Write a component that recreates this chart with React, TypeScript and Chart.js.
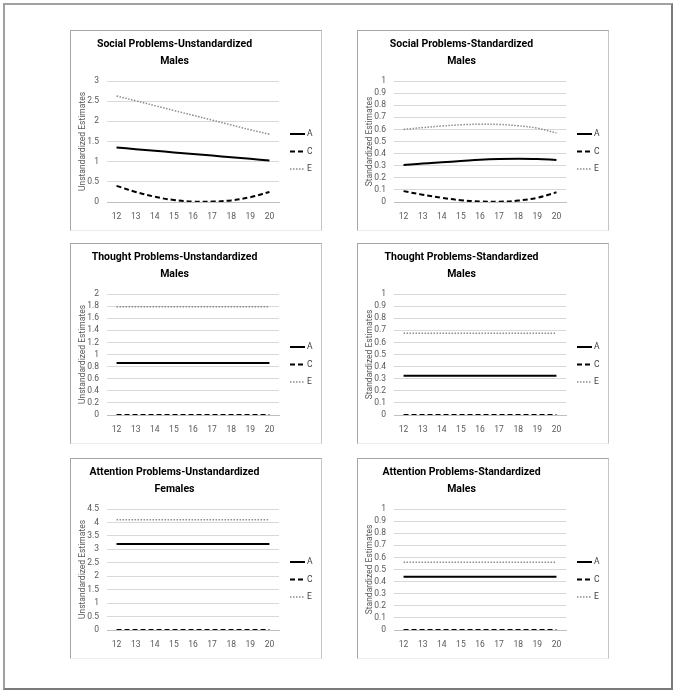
import React, { useEffect, useRef } from "react";
import { Chart, registerables } from "chart.js";

Chart.register(...registerables);

const AGES = ["12", "13", "14", "15", "16", "17", "18", "19", "20"];
const SERIES_NAMES = ["A", "C", "E"];

const SOC_UNSTD_A = [1.35, 1.31, 1.27, 1.23, 1.19, 1.15, 1.11, 1.07, 1.03];
const SOC_UNSTD_C = [0.4, 0.25, 0.13, 0.05, 0.01, 0.01, 0.04, 0.12, 0.25];
const SOC_UNSTD_E = [2.63, 2.51, 2.39, 2.27, 2.15, 2.03, 1.91, 1.79, 1.68];

const SOC_STD_A = [0.305, 0.318, 0.328, 0.338, 0.349, 0.355, 0.357, 0.355, 0.347];
const SOC_STD_C = [0.09, 0.06, 0.035, 0.015, 0.005, 0.003, 0.012, 0.035, 0.08];
const SOC_STD_E = [0.6, 0.615, 0.628, 0.638, 0.643, 0.641, 0.63, 0.61, 0.57];

const THO_UNSTD_A = [0.86, 0.86, 0.86, 0.86, 0.86, 0.86, 0.86, 0.86, 0.86];
const THO_UNSTD_C = [0, 0, 0, 0, 0, 0, 0, 0, 0];
const THO_UNSTD_E = [1.79, 1.79, 1.79, 1.79, 1.79, 1.79, 1.79, 1.79, 1.79];

const THO_STD_A = [0.325, 0.325, 0.325, 0.325, 0.325, 0.325, 0.325, 0.325, 0.325];
const THO_STD_C = [0, 0, 0, 0, 0, 0, 0, 0, 0];
const THO_STD_E = [0.675, 0.675, 0.675, 0.675, 0.675, 0.675, 0.675, 0.675, 0.675];

const ATT_UNSTD_A = [3.2, 3.2, 3.2, 3.2, 3.2, 3.2, 3.2, 3.2, 3.2];
const ATT_UNSTD_C = [0, 0, 0, 0, 0, 0, 0, 0, 0];
const ATT_UNSTD_E = [4.1, 4.1, 4.1, 4.1, 4.1, 4.1, 4.1, 4.1, 4.1];

const ATT_STD_A = [0.44, 0.44, 0.44, 0.44, 0.44, 0.44, 0.44, 0.44, 0.44];
const ATT_STD_C = [0, 0, 0, 0, 0, 0, 0, 0, 0];
const ATT_STD_E = [0.56, 0.56, 0.56, 0.56, 0.56, 0.56, 0.56, 0.56, 0.56];

const TITLES = [
  ["Social Problems-Unstandardized", "Males"],
  ["Social Problems-Standardized", "Males"],
  ["Thought Problems-Unstandardized", "Males"],
  ["Thought Problems-Standardized", "Males"],
  ["Attention Problems-Unstandardized", "Females"],
  ["Attention Problems-Standardized", "Males"],
];
const Y_TITLES = [
  "Unstandardized Estimates",
  "Standardized Estimates",
  "Unstandardized Estimates",
  "Standardized Estimates",
  "Unstandardized Estimates",
  "Standardized Estimates",
];
const Y_MAX = [3, 1, 2, 1, 4.5, 1];
const Y_STEP = [0.5, 0.1, 0.2, 0.1, 0.5, 0.1];
const SMOOTH = [true, true, false, false, false, false];
const DATA = [
  [SOC_UNSTD_A, SOC_UNSTD_C, SOC_UNSTD_E],
  [SOC_STD_A, SOC_STD_C, SOC_STD_E],
  [THO_UNSTD_A, THO_UNSTD_C, THO_UNSTD_E],
  [THO_STD_A, THO_STD_C, THO_STD_E],
  [ATT_UNSTD_A, ATT_UNSTD_C, ATT_UNSTD_E],
  [ATT_STD_A, ATT_STD_C, ATT_STD_E],
];

const FONT = '"Liberation Sans Narrow", Roboto, "Liberation Sans", sans-serif';
const PANEL_W = 252;
const PANEL_H = 201;
const PANEL_POS = [
  [70, 30],
  [357, 30],
  [70, 243],
  [357, 243],
  [70, 458],
  [357, 458],
];

const STYLES = [
  { borderColor: "#000000", borderWidth: 2, borderDash: [] as number[] },
  { borderColor: "#000000", borderWidth: 2, borderDash: [5, 3] },
  { borderColor: "#8c8c8c", borderWidth: 1.5, borderDash: [1.5, 1.5] },
];

const legendPlugin = {
  id: "sideLegend",
  afterDraw(chart: any) {
    const { ctx, chartArea } = chart;
    const offs = [53, 70.5, 88];
    ctx.save();
    chart.data.datasets.forEach((ds: any, i: number) => {
      const y = chartArea.top + offs[i];
      const x0 = chartArea.right + 11;
      ctx.beginPath();
      ctx.setLineDash(ds.borderDash || []);
      ctx.strokeStyle = ds.borderColor;
      ctx.lineWidth = ds.borderWidth;
      ctx.moveTo(x0, y);
      ctx.lineTo(x0 + 15, y);
      ctx.stroke();
      ctx.setLineDash([]);
      ctx.fillStyle = "#404040";
      ctx.font = `8.5px ${FONT}`;
      ctx.textAlign = "left";
      ctx.textBaseline = "middle";
      ctx.fillText(ds.label, x0 + 17, y);
    });
    ctx.restore();
  },
};

function Panel({ idx }: { idx: number }) {
  const ref = useRef<HTMLCanvasElement>(null);
  useEffect(() => {
    if (!ref.current) return;
    const chart = new Chart(ref.current, {
      type: "line",
      data: {
        labels: AGES,
        datasets: DATA[idx].map((vals, i) => ({
          label: SERIES_NAMES[i],
          data: vals,
          borderColor: STYLES[i].borderColor,
          borderWidth: STYLES[i].borderWidth,
          borderDash: STYLES[i].borderDash,
          pointRadius: 0,
          fill: false,
          tension: SMOOTH[idx] ? 0.4 : 0,
          borderCapStyle: "butt",
        })),
      },
      options: {
        animation: false,
        responsive: false,
        maintainAspectRatio: false,
        layout: { padding: { left: 0, right: 43, top: 0, bottom: 0 } },
        plugins: {
          legend: { display: false },
          tooltip: { enabled: false },
          title: {
            display: true,
            text: TITLES[idx],
            color: "#000000",
            font: { family: FONT, size: 10.5, weight: "bold", lineHeight: 17 / 10.5 },
            padding: { top: 5.5, bottom: 11.5 },
          },
        },
        scales: {
          x: {
            type: "category",
            offset: true,
            grid: { display: false, drawTicks: false, tickLength: 0 },
            border: { display: true, color: "#bfbfbf", width: 1 },
            ticks: { color: "#595959", font: { family: FONT, size: 8.5 }, padding: 10, maxRotation: 0, autoSkip: false },
            afterFit: (s: any) => {
              s.height = 29;
            },
          },
          y: {
            min: 0,
            max: Y_MAX[idx],
            grid: { color: "#d9d9d9", lineWidth: 1, drawTicks: false, tickLength: 0 },
            border: { display: false },
            ticks: {
              count: Math.round(Y_MAX[idx] / Y_STEP[idx]) + 1,
              autoSkip: false,
              color: "#595959",
              font: { family: FONT, size: 8.5 },
              padding: 8,
              callback: (v: any) => String(Number(Number(v).toFixed(2))),
            },
            title: {
              display: true,
              text: Y_TITLES[idx],
              color: "#595959",
              font: { family: FONT, size: 8.5 },
              padding: { top: 7.5, bottom: 0 },
            },
            afterFit: (s: any) => {
              s.width = 37;
            },
          },
        },
      } as any,
      plugins: [legendPlugin],
    });
    return () => chart.destroy();
  }, [idx]);
  const [left, top] = PANEL_POS[idx];
  return (
    <>
      <canvas
        ref={ref}
        width={PANEL_W}
        height={PANEL_H}
        style={{ position: "absolute", left, top, width: PANEL_W, height: PANEL_H }}
      />
      <div
        style={{
          position: "absolute",
          left,
          top,
          width: PANEL_W,
          height: PANEL_H,
          boxSizing: "border-box",
          borderStyle: "solid",
          borderWidth: 1,
          borderColor: "#a6a6a6 #c4c4c4 #ececec #a6a6a6",
          pointerEvents: "none",
        }}
      />
    </>
  );
}

export default function App() {
  return (
    <div style={{ position: "absolute", left: 0, top: 0, width: 676, height: 693, background: "#ffffff" }}>
      <div
        style={{
          position: "absolute",
          left: 3,
          top: 3,
          width: 670,
          height: 687,
          boxSizing: "border-box",
          borderStyle: "solid",
          borderWidth: "2px 2px 2px 2px",
          borderColor: "#a0a0a0 #7a7a7a #7a7a7a #a0a0a0",
        }}
      />
      {PANEL_POS.map((_, i) => (
        <Panel key={i} idx={i} />
      ))}
    </div>
  );
}
